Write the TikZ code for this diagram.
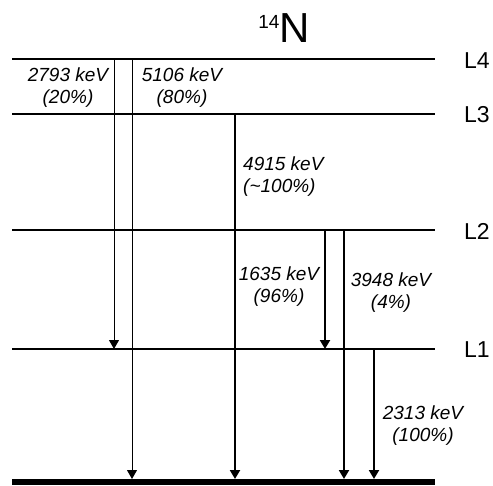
\documentclass[tikz,border=0pt]{standalone}
\usepackage{fontspec}
\setmainfont{Liberation Sans}
\usetikzlibrary{arrows.meta}
\begin{document}
\begin{tikzpicture}[x=1pt,y=-1pt,
  level/.style={line width=2pt},
  ground/.style={line width=6pt},
  thin tr/.style={line width=1pt,-{Triangle[length=9pt,width=10pt]}},
  thick tr/.style={line width=2pt,-{Triangle[length=9pt,width=10pt]}},
  lbl/.style={font=\fontsize{19}{22}\selectfont\itshape,align=center,inner sep=0pt},
  lvl/.style={font=\fontsize{23}{24}\selectfont,anchor=west,inner sep=0pt}]
\useasboundingbox (0,0) rectangle (493,485);
% levels
\coordinate (L4a) at (12,59); \coordinate (L4b) at (435,59);
\coordinate (L3a) at (12,114); \coordinate (L3b) at (435,114);
\coordinate (L2a) at (12,230); \coordinate (L2b) at (435,230);
\coordinate (L1a) at (12,349); \coordinate (L1b) at (435,349);
\coordinate (G0a) at (12,482); \coordinate (G0b) at (435,482);
\draw[level] (L4a) -- (L4b);
\draw[level] (L3a) -- (L3b);
\draw[level] (L2a) -- (L2b);
\draw[level] (L1a) -- (L1b);
\draw[ground] (G0a) -- (G0b);
\node[lvl] (n4) at (464,61) {L4};
\node[lvl] (n3) at (464,115) {L3};
\node[lvl] (n2) at (464,231) {L2};
\node[lvl] (n1) at (464,350) {L1};
\node[font=\fontsize{42}{44}\selectfont,inner sep=0pt] (title) at (284,28) {\raisebox{14pt}{\fontsize{19}{20}\selectfont 14}N};
% transitions
\coordinate (a1) at (114,59); \coordinate (a2) at (114,349);
\coordinate (b1) at (132,59); \coordinate (b2) at (132,479);
\coordinate (c1) at (235,114); \coordinate (c2) at (235,479);
\coordinate (d1) at (325,230); \coordinate (d2) at (325,349);
\coordinate (e1) at (344,230); \coordinate (e2) at (344,479);
\coordinate (f1) at (374,349); \coordinate (f2) at (374,479);
\draw[thin tr] (a1) -- (a2);
\draw[thin tr] (b1) -- (b2);
\draw[thick tr] (c1) -- (c2);
\draw[thick tr] (d1) -- (d2);
\draw[thick tr] (e1) -- (e2);
\draw[thick tr] (f1) -- (f2);
% labels
\node[lbl] (t1) at (68,88) {2793 keV\\(20\%)};
\node[lbl] (t2) at (182,88) {5106 keV\\(80\%)};
\node[lbl,align=left,anchor=west] (t3) at (243,177) {4915 keV\\(\textasciitilde100\%)};
\node[lbl] (t4) at (279,287) {1635 keV\\(96\%)};
\node[lbl] (t5) at (391,293) {3948 keV\\(4\%)};
\node[lbl] (t6) at (423,426) {2313 keV\\(100\%)};
\end{tikzpicture}
\end{document}
